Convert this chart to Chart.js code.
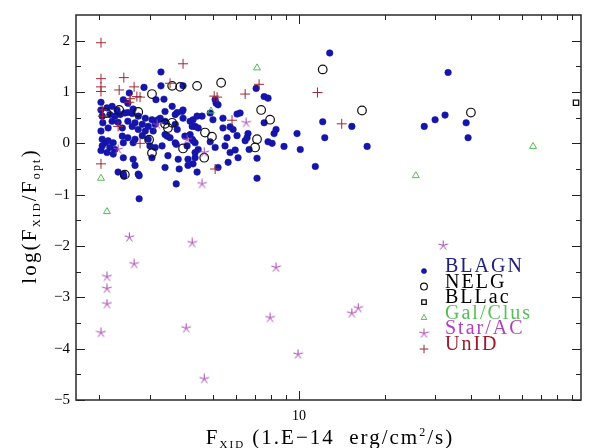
<!DOCTYPE html>
<html>
<head>
<meta charset="utf-8">
<script src="https://cdn.jsdelivr.net/npm/chart.js@4/dist/chart.umd.min.js"></script>
<style>
  html, body { margin: 0; background: #fff; }
  #wrap { width: 600px; height: 448px; }
</style>
</head>
<body>
<div id="wrap"><canvas id="fluxChart"></canvas></div>
<script>
// flux (1.E-14 erg/cm2/s) and log(Fx/Fopt) per source class
const blagnFlux = [12.8, 12.1, 15.3, 12.3, 17.3, 10.1, 11.4, 33.2, 27.4, 29.9, 32.4, 38.4, 39.0,
  7.08, 5.13, 5.21, 7.55, 7.79, 7.55, 4.89, 4.58, 5.00, 5.42, 6.07, 6.22, 4.33, 4.44, 5.42, 5.74,
  5.88, 5.60, 6.07, 6.63, 6.58, 6.48, 8.31, 8.18, 9.84, 7.79, 8.05, 8.86, 4.89, 5.09, 5.51, 5.98,
  5.74, 6.69, 4.44, 4.33, 5.65, 6.12, 7.13, 5.21, 7.13, 4.40, 3.29, 2.87, 3.29, 3.93, 2.55, 3.16,
  3.37, 5.09, 2.03, 2.43, 2.52, 2.13, 2.22, 2.31, 2.63, 3.60, 3.90, 3.93, 3.40, 4.40, 2.52, 3.75,
  3.69, 3.93, 3.27, 4.16, 4.26, 2.05, 2.18, 2.27, 2.37, 2.46, 2.61, 2.74, 2.90, 3.06, 3.21, 2.06,
  2.22, 2.33, 2.52, 2.67, 2.83, 2.97, 3.14, 2.15, 2.41, 2.61, 2.74, 2.90, 3.40, 3.69, 3.75, 4.23,
  3.09, 3.40, 3.54, 3.99, 4.16, 2.05, 2.10, 2.15, 2.24, 2.05, 2.18, 2.27, 2.13, 2.24, 2.41, 2.52,
  2.67, 2.83, 2.97, 3.01, 3.14, 3.32, 3.46, 3.69, 4.06, 4.33, 4.23, 2.43, 2.63, 3.72, 4.26, 2.43,
  2.63, 3.48, 3.78, 4.09, 4.33, 3.06, 2.67, 3.40, 3.81, 4.26, 4.09, 2.33, 2.43, 2.44, 2.74, 2.76,
  3.72, 2.76, 2.03, 2.03, 2.03];
const blagnRatio = [1.76, 0.42, 0.33, 0.11, -0.06, -0.12, -0.45, 1.38, 0.33, 0.46, 0.55, 0.40, 0.11,
  1.07, 0.78, 0.75, 0.91, 0.88, 0.40, 0.59, 0.53, 0.46, 0.49, 0.57, 0.59, 0.33, 0.30, 0.30, 0.32,
  0.27, 0.11, 0.15, 0.19, 0.11, 0.05, 0.27, 0.19, 0.19, 0.03, 0.00, -0.06, 0.03, -0.08, -0.05, -0.13,
  -0.18, -0.12, -0.12, -0.18, -0.37, -0.28, -0.29, -0.47, -0.68, -0.56, 1.39, 1.09, 1.12, 1.12, 0.98, 0.85,
  0.86, 0.85, 0.80, 0.85, 0.78, 0.69, 0.72, 0.65, 0.67, 0.72, 0.62, 0.65, 0.62, 0.53, 0.60, 0.60,
  0.56, 0.49, 0.49, 0.43, 0.46, 0.53, 0.56, 0.53, 0.56, 0.59, 0.58, 0.53, 0.49, 0.46, 0.46, 0.40,
  0.43, 0.41, 0.43, 0.40, 0.37, 0.33, 0.37, 0.30, 0.30, 0.33, 0.27, 0.24, 0.43, 0.37, 0.27, 0.33,
  0.24, 0.17, 0.11, 0.14, 0.17, 0.08, 0.01, 0.05, 0.01, -0.05, -0.08, -0.12, -0.18, -0.21, 0.14, 0.11,
  0.08, 0.15, 0.08, -0.05, -0.08, -0.05, 0.14, 0.01, -0.05, 0.01, 0.08, 0.01, 0.01, -0.02, 0.05, -0.28,
  -0.31, -0.24, -0.31, -0.31, -0.28, -0.28, -0.43, -0.47, -0.50, -0.40, -0.43, -0.56, -0.60, -0.64, -0.60, -0.63,
  -0.79, -1.08, 0.65, 0.24, -0.14];

const nelgFlux = [12.1, 16.6, 39.9, 5.34, 4.40, 3.60, 3.84, 3.06, 7.37, 7.92, 2.12, 2.35, 2.74,
  3.40, 3.48, 3.60, 4.69, 4.96, 7.13, 7.02, 2.99, 3.06, 3.93, 4.66, 2.46];
const nelgRatio = [1.44, 0.64, 0.60, 1.18, 1.12, 1.12, 1.10, 0.96, 0.65, 0.46, 0.59, 0.65, 0.61,
  0.38, 0.30, 0.40, 0.21, 0.13, 0.08, -0.08, 0.07, -0.19, -0.10, -0.28, -0.61];

const bllacFlux = [93.0];
const bllacRatio = [0.79];

const galFlux = [7.13, 25.6, 65.8, 2.03, 2.13, 4.92];
const galRatio = [1.47, -0.63, -0.06, -0.68, -1.33, 0.63];

const starFlux = [2.55, 4.23, 2.65, 8.31, 2.13, 2.13, 2.13, 7.92, 4.03, 2.03, 9.92, 4.66, 15.3,
  16.1, 31.9, 6.53, 4.58, 3.19, 4.06, 2.33, 4.66];
const starRatio = [-1.83, -1.94, -2.35, -2.42, -2.60, -2.83, -3.13, -3.40, -3.60, -3.69, -4.11, -4.59, -3.31,
  -3.21, -1.99, 0.40, -0.79, 0.36, 0.07, -0.12, -0.18];

const unidFlux = [2.03, 3.93, 2.03, 2.03, 2.03, 2.44, 2.35, 2.65, 2.57, 2.78, 3.54, 5.05, 5.17,
  6.48, 7.25, 11.6, 14.1, 2.05, 2.55, 5.83, 2.78, 2.33, 2.03, 5.09, 2.06, 2.71];
const unidRatio = [1.96, 1.55, 1.26, 1.10, 1.01, 1.28, 1.04, 1.10, 0.87, 0.90, 1.17, 0.92, 0.90,
  0.96, 1.15, 0.99, 0.38, 0.65, 0.80, 0.45, 0.00, 0.33, -0.40, -0.50, 0.53, 0.91];

const yMajorTicks = [-5, -4, -3, -2, -1, 0, 1, 2];
const yMinorTicks = [-4.5, -3.5, -2.5, -1.5, -0.5, 0.5, 1.5];
const xLabelTicks = [10];
const xMinorTicks = [2, 3, 4, 5, 6, 7, 8, 9, 20, 30, 40, 50, 60, 70, 80, 90];

const serif = "'Liberation Serif', 'Times New Roman', serif";

function pts(xs, ys) {
  return xs.map((x, i) => ({ x: x, y: ys[i] }));
}

// five-armed asterisk, like the plotting package's star symbol
function starMark(size, color) {
  const c = document.createElement("canvas");
  c.width = size; c.height = size;
  const g = c.getContext("2d");
  const r = size / 2 - 0.5;
  g.strokeStyle = color;
  g.lineWidth = 1;
  g.beginPath();
  for (let k = 0; k < 5; k++) {
    const ang = -Math.PI / 2 + k * 2 * Math.PI / 5;
    g.moveTo(size / 2, size / 2);
    g.lineTo(size / 2 + r * Math.cos(ang), size / 2 + r * Math.sin(ang));
  }
  g.stroke();
  return c;
}

const datasets = [
  { label: "BLAGN", data: pts(blagnFlux, blagnRatio), pointStyle: "circle", pointRadius: 3.3,
    backgroundColor: "#1515aa", borderColor: "#1515aa", borderWidth: 0.5, order: 6,
    legendColor: "#20207e", legendRadius: 2.6 },
  { label: "NELG", data: pts(nelgFlux, nelgRatio), pointStyle: "circle", pointRadius: 4.3,
    backgroundColor: "rgba(0,0,0,0)", borderColor: "#111", borderWidth: 1.2, order: 5,
    legendColor: "#000", legendRadius: 3.4 },
  { label: "BLLac", data: pts(bllacFlux, bllacRatio), pointStyle: "rect", pointRadius: 3.8,
    backgroundColor: "rgba(0,0,0,0)", borderColor: "#111", borderWidth: 1.3, order: 4,
    legendColor: "#000", legendRadius: 3.2 },
  { label: "Gal/Clus", data: pts(galFlux, galRatio), pointStyle: "triangle", pointRadius: 4,
    backgroundColor: "rgba(0,0,0,0)", borderColor: "#55bb55", borderWidth: 1, order: 3,
    legendColor: "#55c055", legendRadius: 3.3 },
  { label: "Star/AC", data: pts(starFlux, starRatio), pointStyle: starMark(11, "#a844b4"), pointRadius: 5,
    backgroundColor: "rgba(0,0,0,0)", borderColor: "#a844b4", borderWidth: 1, order: 2,
    legendColor: "#b040c0", legendRadius: 4 },
  { label: "UnID", data: pts(unidFlux, unidRatio), pointStyle: "cross", pointRadius: 5,
    backgroundColor: "rgba(0,0,0,0)", borderColor: "#a02838", borderWidth: 1, order: 1,
    legendColor: "#9a1a2a", legendRadius: 4.3 },
];

// box round the plot, inward ticks on all four sides
const frameTicks = {
  id: "frameTicks",
  afterDatasetsDraw(chart) {
    const { ctx, chartArea: a, scales } = chart;
    ctx.save();
    ctx.strokeStyle = "#222";
    ctx.lineWidth = 1;
    ctx.beginPath();
    const xt = (v, len) => {
      const px = Math.round(scales.x.getPixelForValue(v)) + 0.5;
      ctx.moveTo(px, a.bottom); ctx.lineTo(px, a.bottom - len);
      ctx.moveTo(px, a.top); ctx.lineTo(px, a.top + len);
    };
    const yt = (v, len) => {
      const py = Math.round(scales.y.getPixelForValue(v)) + 0.5;
      ctx.moveTo(a.left, py); ctx.lineTo(a.left + len, py);
      ctx.moveTo(a.right, py); ctx.lineTo(a.right - len, py);
    };
    xLabelTicks.forEach(v => xt(v, 9));
    xMinorTicks.forEach(v => xt(v, 5));
    yMajorTicks.forEach(v => yt(v, 9));
    yMinorTicks.forEach(v => yt(v, 5));
    ctx.stroke();
    ctx.lineWidth = 1.5;
    ctx.strokeStyle = "#2a2a2a";
    ctx.strokeRect(a.left, a.top, a.right - a.left, a.bottom - a.top);
    ctx.restore();
  }
};

// draw a run of text pieces, some as sub/superscripts
function drawPieces(ctx, pieces, cx, y, spacing) {
  ctx.letterSpacing = spacing + "px";
  const widths = pieces.map(p => {
    ctx.font = p.size + "px " + serif;
    return ctx.measureText(p.t).width;
  });
  let x = cx - widths.reduce((s, w) => s + w, 0) / 2;
  pieces.forEach((p, i) => {
    ctx.font = p.size + "px " + serif;
    ctx.fillText(p.t, x, y + (p.dy || 0));
    x += widths[i];
  });
  ctx.letterSpacing = "0px";
}

const annotations = {
  id: "annotations",
  afterDraw(chart) {
    const { ctx } = chart;
    ctx.save();
    ctx.fillStyle = "#000";
    ctx.textAlign = "left";
    ctx.textBaseline = "alphabetic";
    drawPieces(ctx, [
      { t: "F", size: 21 }, { t: "XID", size: 11, dy: 4 },
      { t: " (1.E\u221214  erg/cm", size: 21 }, { t: "2", size: 12, dy: -8 },
      { t: "/s)", size: 21 }
    ], 330, 444, 2);

    ctx.translate(36, 216);
    ctx.rotate(-Math.PI / 2);
    drawPieces(ctx, [
      { t: "log(F", size: 21 }, { t: "XID", size: 11, dy: 4 },
      { t: "/F", size: 21 }, { t: "opt", size: 12, dy: 4 }, { t: ")", size: 21 }
    ], 0, 0, 2.2);
    ctx.restore();

    // legend in the lower right of the plot
    ctx.save();
    chart.data.datasets.forEach((ds, i) => {
      const base = 272 + i * 15.6;
      ctx.fillStyle = ds.backgroundColor;
      ctx.strokeStyle = ds.borderColor;
      ctx.lineWidth = ds.borderWidth;
      Chart.helpers.drawPoint(ctx, {
        pointStyle: ds.pointStyle, rotation: 0,
        radius: ds.legendRadius, borderWidth: ds.borderWidth
      }, 424, base - 1);
      ctx.fillStyle = ds.legendColor;
      ctx.font = "20px " + serif;
      ctx.letterSpacing = "2px";
      ctx.textAlign = "left";
      ctx.textBaseline = "alphabetic";
      ctx.fillText(ds.label, 445, base);
    });
    ctx.restore();
  }
};

new Chart(document.getElementById("fluxChart"), {
  type: "scatter",
  data: { datasets: datasets },
  options: {
    responsive: true,
    maintainAspectRatio: false,
    animation: false,
    devicePixelRatio: 1,
    layout: { padding: { left: 10, right: 19, top: 10, bottom: 0 } },
    plugins: { legend: { display: false }, tooltip: { enabled: false } },
    scales: {
      x: {
        type: "logarithmic",
        min: 1.66,
        max: 96.8,
        afterBuildTicks: s => { s.ticks = xLabelTicks.map(v => ({ value: v })); },
        afterFit: s => { s.height = 48; },
        grid: { display: false, drawTicks: false },
        border: { display: false },
        ticks: {
          color: "#000", padding: 8, maxRotation: 0, autoSkip: false,
          font: { family: serif, size: 14 },
          callback: v => String(v)
        }
      },
      y: {
        type: "linear",
        min: -5,
        max: 2.5,
        afterBuildTicks: s => { s.ticks = yMajorTicks.map(v => ({ value: v })); },
        afterFit: s => { s.width = 66; },
        grid: { display: false, drawTicks: false },
        border: { display: false },
        ticks: {
          color: "#000", padding: 6,
          font: { family: serif, size: 15 },
          callback: v => (v < 0 ? "\u2212" + Math.abs(v) : String(v))
        }
      }
    }
  },
  plugins: [frameTicks, annotations]
});
</script>
</body>
</html>
